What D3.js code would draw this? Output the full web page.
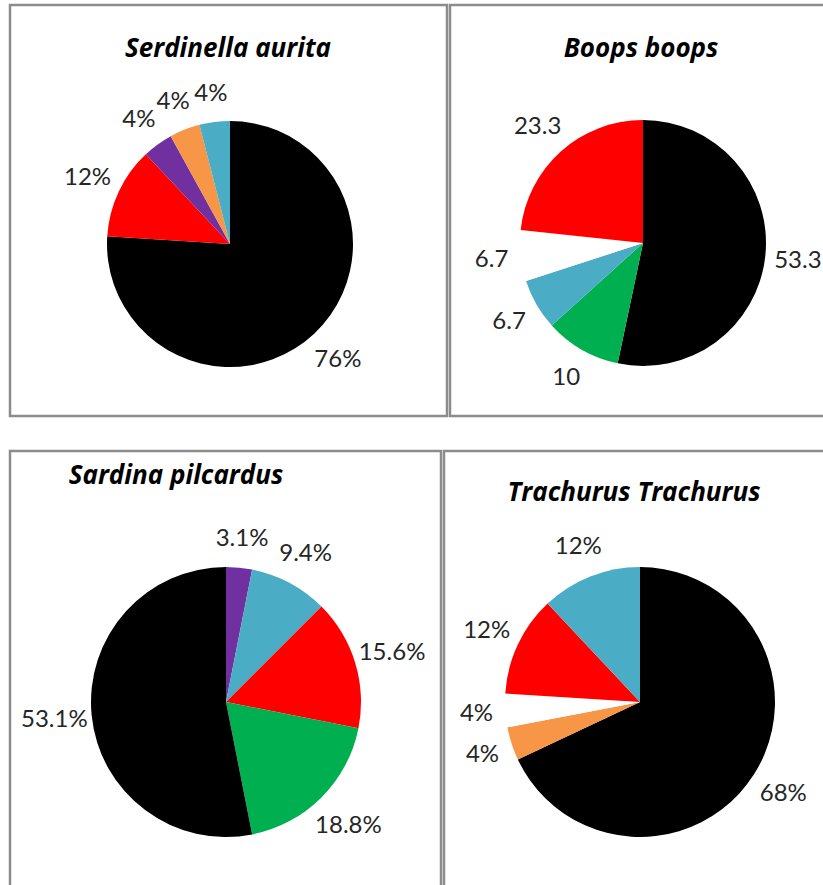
<!DOCTYPE html>
<html>
<head>
<meta charset="utf-8">
<script src="https://cdn.jsdelivr.net/npm/d3@7"></script>
<style>
    body { margin: 0; background: #fff; }
    .title { font-family: "Open Sans", Lato, sans-serif; font-weight: bold; font-style: italic; }
    .label { font-family: Lato, "Open Sans", sans-serif; fill: #262626; }
</style>
</head>
<body>
<div id="chart"></div>
<script>
// chart data, one set of arrays per species
var colours = {
    black: "#000000",
    red: "#FF0000",
    purple: "#7030A0",
    orange: "#F79646",
    cyan: "#4BACC6",
    green: "#00B050",
    white: "#FFFFFF"
};

var serdinellaTitle = "Serdinella aurita";
var serdinellaSlices = ["black", "red", "purple", "orange", "cyan"];
var serdinellaValues = [76, 12, 4, 4, 4];
var serdinellaLabels = ["76%", "12%", "4%", "4%", "4%"];

var boopsTitle = "Boops boops";
var boopsSlices = ["black", "green", "cyan", "white", "red"];
var boopsValues = [53.3, 10, 6.7, 6.7, 23.3];
var boopsLabels = ["53.3", "10", "6.7", "6.7", "23.3"];

var sardinaTitle = "Sardina pilcardus";
var sardinaSlices = ["purple", "cyan", "red", "green", "black"];
var sardinaValues = [3.1, 9.4, 15.6, 18.8, 53.1];
var sardinaLabels = ["3.1%", "9.4%", "15.6%", "18.8%", "53.1%"];

var trachurusTitle = "Trachurus Trachurus";
var trachurusSlices = ["black", "orange", "white", "red", "cyan"];
var trachurusValues = [68, 4, 4, 12, 12];
var trachurusLabels = ["68%", "4%", "4%", "12%", "12%"];

//****** SETUP ******//

var width = 823,
    height = 885;

var svg = d3.select("#chart")
    .append("svg")
    .attr("width", width)
    .attr("height", height);

// panel layout: box, pie centre, radius, title placement
var panels = [
    { title: serdinellaTitle, slices: serdinellaSlices, values: serdinellaValues, labels: serdinellaLabels,
      box: [10, 5, 437, 411], cx: 230, cy: 244, r: 123, tx: 228, ty: 57 },
    { title: boopsTitle, slices: boopsSlices, values: boopsValues, labels: boopsLabels,
      box: [450, 5, 400, 411], cx: 643, cy: 243, r: 123, tx: 641, ty: 57 },
    { title: sardinaTitle, slices: sardinaSlices, values: sardinaValues, labels: sardinaLabels,
      box: [10, 451, 431, 460], cx: 226, cy: 702, r: 135, tx: 176, ty: 484 },
    { title: trachurusTitle, slices: trachurusSlices, values: trachurusValues, labels: trachurusLabels,
      box: [444, 451, 400, 460], cx: 640, cy: 702, r: 135, tx: 634, ty: 501 }
];

var pie = d3.pie()
    .sort(null)
    .value(function(d) { return d; });

panels.forEach(function(p) {
    // panel border
    svg.append("rect")
        .attr("x", p.box[0])
        .attr("y", p.box[1])
        .attr("width", p.box[2])
        .attr("height", p.box[3])
        .style("fill", "none")
        .style("stroke", "#8c8c8c")
        .style("stroke-width", 2.5);

    // title
    svg.append("text")
        .attr("class", "title")
        .attr("x", p.tx)
        .attr("y", p.ty)
        .style("text-anchor", "middle")
        .style("font-size", "26px")
        .text(p.title);

    var g = svg.append("g")
        .attr("transform", "translate(" + p.cx + "," + p.cy + ")");

    var arc = d3.arc()
        .innerRadius(0)
        .outerRadius(p.r);

    var arcs = pie(p.values);

    g.selectAll("path")
        .data(arcs)
        .enter()
        .append("path")
        .attr("d", arc)
        .style("fill", function(d, i) { return colours[p.slices[i]]; });

    // labels sit just outside the slice, pushed out a bit by their own box size
    var gap = 20,
        textH = 18;
    g.selectAll("text")
        .data(arcs)
        .enter()
        .append("text")
        .attr("class", "label")
        .style("font-size", "24px")
        .style("text-anchor", "middle")
        .attr("dy", "0.35em")
        .text(function(d, i) { return p.labels[i]; })
        .each(function(d) {
            var w = this.getComputedTextLength();
            var a = (d.startAngle + d.endAngle) / 2;
            var s = Math.sin(a), c = Math.cos(a);
            var dist = p.r + gap + Math.abs(s) * w / 4 + Math.abs(c) * textH / 2;
            d3.select(this)
                .attr("x", s * dist)
                .attr("y", -c * dist);
        });
});
</script>
</body>
</html>
